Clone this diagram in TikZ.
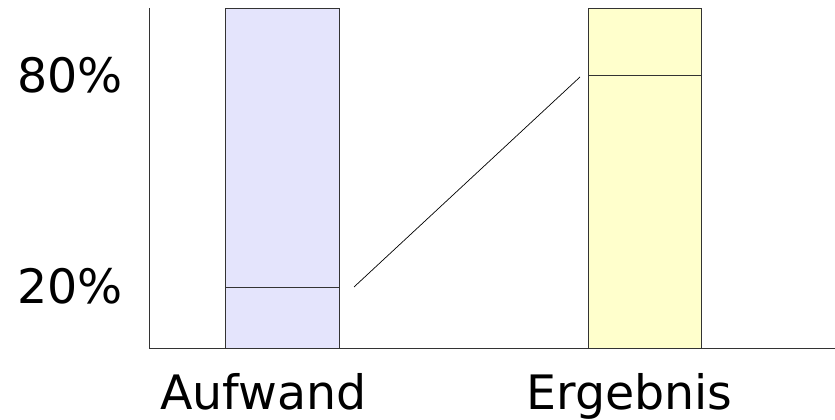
\documentclass[tikz,border=0pt]{standalone}
\usepackage{fontspec}
\setmainfont{DejaVu Sans}
\definecolor{aufwandfill}{RGB}{228,228,252}
\definecolor{ergebnisfill}{RGB}{255,255,204}
\tikzset{
  bar/.style={draw=black!80,thin},
  lbl/.style={font=\fontsize{27}{31}\selectfont,inner sep=0pt}
}
\begin{document}
\begin{tikzpicture}
  \useasboundingbox (0,0) rectangle (16.7,8.4);
  \draw[black!80] (2.98,8.24)--(2.98,1.44)--(16.7,1.44);
  \draw[bar,fill=aufwandfill] (4.5,1.44) rectangle (6.78,8.24);
  \draw[bar] (4.5,2.66)--(6.78,2.66);
  \draw[bar,fill=ergebnisfill] (11.76,1.44) rectangle (14.02,8.24);
  \draw[bar] (11.76,6.9)--(14.02,6.9);
  \coordinate (low) at (7.08,2.66);
  \coordinate (high) at (11.6,6.86);
  \draw[thin] (low)--(high);
  \node[lbl] (p80) at (1.4,6.9) {80\%};
  \node[lbl] (p20) at (1.4,2.68) {20\%};
  \node[lbl,anchor=base] (aufwand) at (5.27,0.2) {Aufwand};
  \node[lbl,anchor=base] (ergebnis) at (12.59,0.2) {Ergebnis};
\end{tikzpicture}
\end{document}
